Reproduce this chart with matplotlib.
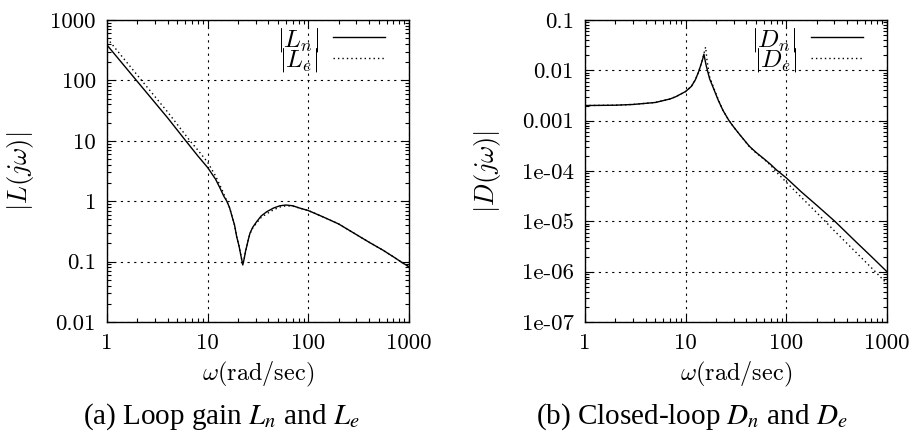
import matplotlib
matplotlib.use("Agg")
import matplotlib.pyplot as plt
from matplotlib.ticker import FixedLocator, FixedFormatter, LogLocator, NullFormatter

# Loop gain, nominal (solid) and estimated (dotted)
w_Ln = [1, 2, 4, 6, 8, 10, 12, 13.3, 14.5, 15.5, 16.5, 17.3, 18.5, 19.4, 20.5, 21.5, 22.3,
        23, 23.8, 24.4, 25.3, 26.3, 28, 30.7, 34, 38.6, 45, 52, 60, 70, 82, 100,
        140, 200, 300, 400, 550, 700, 850, 1000]
L_n = [385, 96, 24, 10.2, 5.6, 3.6, 2.3, 1.63, 1.2, 1.0, 0.78, 0.59, 0.40, 0.26, 0.18, 0.12, 0.088,
       0.11, 0.15, 0.177, 0.23, 0.295, 0.37, 0.46, 0.57, 0.67, 0.77, 0.84, 0.865, 0.84, 0.77, 0.70,
       0.55, 0.42, 0.28, 0.21, 0.155, 0.12, 0.097, 0.082]
w_Le = [1, 2, 4, 6.67, 8, 10, 12, 14, 15.5, 16.5, 17.3, 18.5, 19.4, 20.5, 21.5, 22.3,
        23, 23.8, 24.4, 25.3, 26.3, 28, 30.7, 34, 38.6, 45, 52, 60, 70, 82, 100,
        140, 200, 300, 400, 550, 700, 850, 1000]
L_e = [500, 122, 30, 10, 7.0, 4.4, 2.6, 1.5, 1.0, 0.78, 0.59, 0.40, 0.26, 0.18, 0.12, 0.088,
       0.11, 0.15, 0.177, 0.23, 0.29, 0.36, 0.44, 0.54, 0.62, 0.72, 0.80, 0.84, 0.83, 0.77, 0.70,
       0.55, 0.42, 0.28, 0.21, 0.155, 0.12, 0.097, 0.082]

# Closed loop, nominal (solid) and estimated (dotted)
w_Dn = [1, 2, 3, 5, 7, 8, 10, 11.4, 12.5, 13.5, 14.2, 14.8, 15.2, 15.6, 16, 17.3, 19, 21,
        23.5, 27, 30, 34.7, 43, 50, 60, 70, 80, 100, 140, 200, 304, 500, 700, 1000]
D_n = [0.0020, 0.00203, 0.0021, 0.0023, 0.0027, 0.0030, 0.0038, 0.0048, 0.0065, 0.0095, 0.013,
       0.017, 0.021, 0.016, 0.0125, 0.0068, 0.0043, 0.0026, 0.0016, 0.001, 0.00075, 0.00052,
       0.00031, 0.000235, 0.000175, 0.000135, 0.000105, 7.3e-5, 3.9e-5, 2.1e-5, 1.0e-5,
       3.8e-6, 2.0e-6, 1.0e-6]
w_De = [1, 2, 3, 5, 7, 8, 10, 11.4, 12.5, 13.5, 14.2, 14.8, 15.4, 15.8, 16.3, 17.3, 19, 21,
        23.5, 27, 30, 34.7, 43, 50, 60, 70, 80, 100, 140, 200, 300, 500, 700, 1000]
D_e = [0.0020, 0.00203, 0.0021, 0.0023, 0.0027, 0.0030, 0.0038, 0.0048, 0.0065, 0.0095, 0.013,
       0.017, 0.024, 0.029, 0.016, 0.0075, 0.0045, 0.0027, 0.0016, 0.001, 0.00075, 0.00052,
       0.000305, 0.00023, 0.000172, 0.00013, 9.5e-5, 6.0e-5, 3.05e-5, 1.5e-5, 6.5e-6,
       2.35e-6, 1.2e-6, 5.8e-7]

x_ticks = [1, 10, 100, 1000]
x_labels = ["1", "10", "100", "1000"]
yL_ticks = [0.01, 0.1, 1, 10, 100, 1000]
yL_labels = ["0.01", "0.1", "1", "10", "100", "1000"]
yD_ticks = [1e-7, 1e-6, 1e-5, 1e-4, 1e-3, 1e-2, 1e-1]
yD_labels = ["1e-07", "1e-06", "1e-05", "1e-04", "0.001", "0.01", "0.1"]

# Computer Modern look for the gnuplot/epslatex axes
plt.rcParams["font.family"] = ["cmr10", "DejaVu Serif"]
plt.rcParams["mathtext.fontset"] = "cm"
plt.rcParams["axes.unicode_minus"] = False
plt.rcParams["axes.formatter.use_mathtext"] = True

FS = 16.5
fig = plt.figure(figsize=(9.14, 4.38), dpi=100)
axL = fig.add_axes([0.1171, 0.2648, 0.3304, 0.6895])
axD = fig.add_axes([0.6400, 0.2648, 0.3304, 0.6895])


def style_axis(ax, yticks, ylabels, ylim, ylabel, names, xs, ys):
    ax.plot(xs[0], ys[0], color="black", lw=1.0, label=names[0])
    ax.plot(xs[1], ys[1], color="black", lw=1.0, ls=(0, (1, 2.2)), label=names[1])
    ax.set_xscale("log")
    ax.set_yscale("log")
    ax.set_xlim(1, 1000)
    ax.set_ylim(*ylim)
    ax.xaxis.set_major_locator(FixedLocator(x_ticks))
    ax.xaxis.set_major_formatter(FixedFormatter(x_labels))
    ax.yaxis.set_major_locator(FixedLocator(yticks))
    ax.yaxis.set_major_formatter(FixedFormatter(ylabels))
    for a in (ax.xaxis, ax.yaxis):
        a.set_minor_locator(LogLocator(base=10, subs=range(2, 10), numticks=20))
        a.set_minor_formatter(NullFormatter())
    ax.tick_params(which="both", direction="in", top=True, right=True, width=0.8)
    ax.tick_params(which="major", length=6, pad=8, labelsize=FS)
    ax.tick_params(which="minor", length=3)
    ax.grid(True, which="major", color="black", lw=0.8, ls=(0, (2, 4)))
    for s in ax.spines.values():
        s.set_linewidth(1.0)
    ax.set_xlabel(r"$\omega(\mathrm{rad/sec})$", fontsize=17.5)
    ax.set_ylabel(ylabel, fontsize=19)
    ax.xaxis.set_label_coords(0.5, -0.125)
    ax.legend(loc="upper right", bbox_to_anchor=(0.93, 0.99), frameon=False,
              markerfirst=False, fontsize=18, handlelength=2.1, handletextpad=0.55,
              labelspacing=-0.3, borderaxespad=0.0, borderpad=0.1)


style_axis(axL, yL_ticks, yL_labels, (0.01, 1000), r"$|L(j\omega)|$",
           [r"$|L_n|$", r"$|L_e|$"], [w_Ln, w_Le], [L_n, L_e])
axL.yaxis.set_label_coords(-0.235, 0.5)
style_axis(axD, yD_ticks, yD_labels, (1e-7, 0.1), r"$|D(j\omega)|$",
           [r"$|D_n|$", r"$|D_e|$"], [w_Dn, w_De], [D_n, D_e])
axD.yaxis.set_label_coords(-0.27, 0.5)

fig.text(0.242, 0.048, r"(a) Loop gain $L_n$ and $L_e$", ha="center", va="center",
         fontsize=21, family="Liberation Serif", math_fontfamily="stix")
fig.text(0.757, 0.048, r"(b) Closed-loop $D_n$ and $D_e$", ha="center", va="center",
         fontsize=21, family="Liberation Serif", math_fontfamily="stix")

fig.savefig("out.png", dpi=100)
